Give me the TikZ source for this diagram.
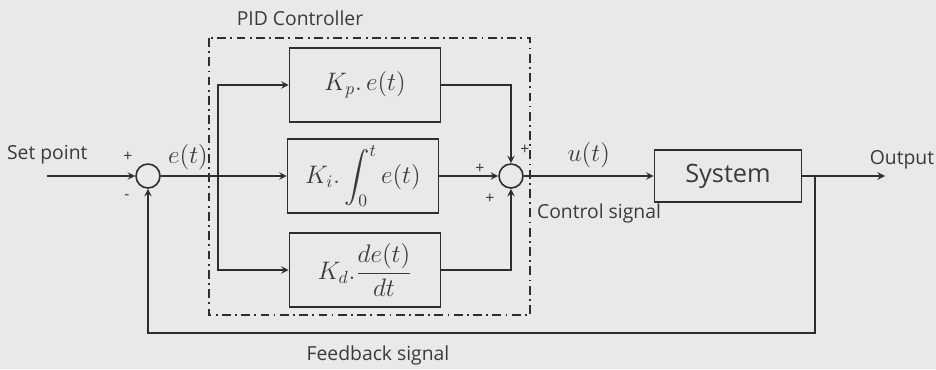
\documentclass[tikz,border=0pt]{standalone}
\usepackage{amsmath}
\usepackage{fontspec}
\setmainfont{Open Sans}
\usetikzlibrary{positioning,arrows}
\definecolor{bg}{HTML}{E9E9E9}
\definecolor{line}{HTML}{2E2E2E}
\definecolor{txt}{HTML}{3A3A3A}

\begin{document}
\begin{tikzpicture}[x=0.02cm,y=-0.02cm,
  blk/.style={rectangle,draw=line,line width=0.9pt,minimum width=3.02cm,minimum height=1.48cm,inner sep=0pt,text=txt,font=\Large},
  sumnode/.style={circle,draw=line,line width=0.9pt,minimum size=0.48cm,inner sep=0pt},
  sig/.style={->,>=stealth,line width=0.9pt,draw=line},
  lab/.style={font=\fontsize{11}{13}\selectfont,text=txt,inner sep=1pt},
  sgn/.style={font=\small,text=txt,inner sep=0pt},
]
\fill[bg] (0,0) rectangle (936,369);
\useasboundingbox (0,0) rectangle (936,369);

% PID frame
\draw[line,line width=1pt,dash pattern=on 5pt off 2.5pt on 1pt off 2.5pt] (209,38) rectangle (530,315);
\node[lab] (pidlab) at (300,18) {PID Controller};

% Summing junctions
\node[sumnode] (sum1) at (148,176) {};
\node[sumnode] (sum2) at (511,176) {};

% P, I, D terms
\node[blk] (kp) at (365,85) {$K_p.\,e(t)$};
\node[blk] (ki) at (363,176) {$K_i.\displaystyle\int_0^t e(t)$};
\node[blk] (kd) at (365,270) {$K_d.\dfrac{de(t)}{dt}$};

% Plant
\node[blk,minimum width=2.94cm,minimum height=1.04cm] (sys) at (728,176) {System};

% Input side
\coordinate (spin) at (47,176);
\node[lab,anchor=south west] (splab) at (5,166) {Set point};
\draw[sig] (spin) -- (sum1);
\node[sgn] (p1) at (128,157) {+};
\node[sgn] (m1) at (127,197) {-};
\node[font=\Large,text=txt] (elab) at (188,157) {$e(t)$};

% Branches to the three terms
\coordinate (br) at (218,176);
\draw[sig] (sum1) -- (ki);
\draw[sig] (br) |- (kp);
\draw[sig] (br) |- (kd);

% Into the second junction
\draw[sig] (kp) -| (sum2);
\draw[sig] (ki) -- (sum2);
\draw[sig] (kd) -| (sum2);
\node[sgn] (p2) at (525,150) {+};
\node[sgn] (p3) at (480,169) {+};
\node[sgn] (p4) at (490,199) {+};

% Control signal
\draw[sig] (sum2) -- (sys) node[midway,above=1pt,font=\Large,text=txt] (ulab) {$u(t)$};
\node[lab,anchor=west] (ctl) at (535,213) {Control signal};

% Output and feedback
\coordinate (out) at (885,176);
\coordinate (tap) at (815,176);
\coordinate (fb) at (815,333);
\draw[sig] (sys) -- (out);
\node[lab] (outlab) at (902,160) {Output};
\draw[sig] (tap) -- (fb) -| (sum1);
\node[lab] (fblab) at (378,355) {Feedback signal};
\end{tikzpicture}
\end{document}
